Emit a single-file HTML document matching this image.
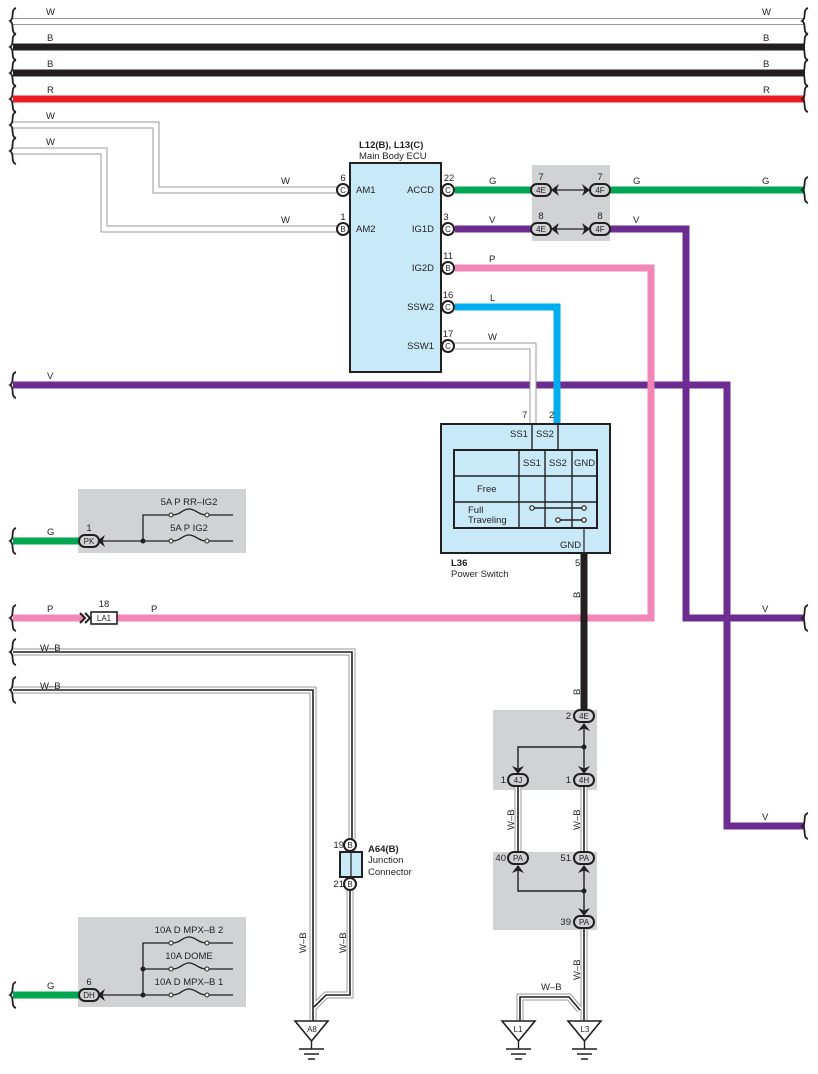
<!DOCTYPE html>
<html><head><meta charset="utf-8"><style>
html,body{margin:0;padding:0;background:#fff}
svg{display:block}
text{font-family:"Liberation Sans",sans-serif;font-size:9.5px;fill:#231f20}
.b{font-weight:bold}
</style></head><body>
<svg width="818" height="1074" viewBox="0 0 818 1074" xmlns="http://www.w3.org/2000/svg">
<defs>
<path id="wv" d="M16,-13 C10,-11 15,-3 10,0 C15,3 10,11 16,13" fill="none" stroke="#231f20" stroke-width="1.8"/>
<g id="chL"><polygon points="0,0 8,-6 5.5,0 8,6" fill="#231f20"/></g>
<g id="chR"><polygon points="0,0 -8,-6 -5.5,0 -8,6" fill="#231f20"/></g>
<g id="chU"><polygon points="0,0 -6,8 0,5.5 6,8" fill="#231f20"/></g>
<g id="chD"><polygon points="0,0 -6,-8 0,-5.5 6,-8" fill="#231f20"/></g>
</defs>

<rect x="532" y="165" width="78" height="76" fill="#d1d2d4"/>
<rect x="78" y="489" width="168" height="64" fill="#d1d2d4"/>
<rect x="78" y="917" width="168" height="90" fill="#d1d2d4"/>
<rect x="493" y="710" width="104" height="80" fill="#d1d2d4"/>
<rect x="493" y="852" width="104" height="78" fill="#d1d2d4"/>

<g fill="none">
<path d="M13,21.5 H805" stroke="#999" stroke-width="7"/><path d="M13,21.5 H805" stroke="#fff" stroke-width="5"/>
<path d="M13,47 H805" stroke="#231f20" stroke-width="7"/>
<path d="M13,73 H805" stroke="#231f20" stroke-width="7"/>
<path d="M13,99 H805" stroke="#ed1c24" stroke-width="7"/>
<path d="M13,125 H156 V190 H337" stroke="#999" stroke-width="7"/><path d="M13,125 H156 V190 H337" stroke="#fff" stroke-width="5"/>
<path d="M13,151 H104 V229 H337" stroke="#999" stroke-width="7"/><path d="M13,151 H104 V229 H337" stroke="#fff" stroke-width="5"/>
<path d="M455,190 H531" stroke="#00a651" stroke-width="7"/>
<path d="M610,190 H805" stroke="#00a651" stroke-width="7"/>
<path d="M455,229 H531" stroke="#6d2c91" stroke-width="7"/>
<path d="M610,229 H686 V618 H805" stroke="#6d2c91" stroke-width="7"/>
<path d="M13,385 H727 V826 H805" stroke="#6d2c91" stroke-width="7"/>
<path d="M455,268 H651 V618 H117" stroke="#f186b7" stroke-width="7"/>
<path d="M13,618 H84" stroke="#f186b7" stroke-width="7"/>
<path d="M455,307 H557 V424" stroke="#00aeef" stroke-width="7"/>
<path d="M455,346 H533 V424" stroke="#999" stroke-width="7"/><path d="M455,346 H533 V424" stroke="#fff" stroke-width="5"/>
<path d="M584,553 V710" stroke="#231f20" stroke-width="7"/>
<path d="M13,541 H80" stroke="#00a651" stroke-width="7"/>
<path d="M13,995 H80" stroke="#00a651" stroke-width="7"/>
</g>

<g fill="none" stroke-linejoin="miter">
<g stroke="#999" stroke-width="7">
<path d="M13,652 H352 V839"/>
<path d="M13,690 H313 V1021"/>
<path d="M350,890 V995 H326 L314,1007"/>
<path d="M518,786 V852"/><path d="M584,786 V852"/>
<path d="M584,928 V1021"/>
<path d="M580,1010 L569,997 H520 V1021"/>
</g>
<g stroke="#fff" stroke-width="5">
<path d="M13,652 H352 V839"/>
<path d="M13,690 H313 V1021"/>
<path d="M350,890 V995 H326 L314,1007"/>
<path d="M518,786 V852"/><path d="M584,786 V852"/>
<path d="M584,928 V1021"/>
<path d="M580,1010 L569,997 H520 V1021"/>
</g>
<g stroke="#231f20" stroke-width="1.6">
<path d="M13,652 H352 V839"/>
<path d="M13,690 H313 V1021"/>
<path d="M350,890 V995 H326 L314,1007"/>
<path d="M518,786 V852"/><path d="M584,786 V852"/>
<path d="M584,928 V1021"/>
<path d="M580,1010 L569,997 H520 V1021"/>
</g>
</g>

<g>
<use href="#wv" x="0" y="21"/><use href="#wv" x="0" y="47"/><use href="#wv" x="0" y="73"/><use href="#wv" x="0" y="99"/><use href="#wv" x="0" y="125"/><use href="#wv" x="0" y="151"/>
<use href="#wv" x="0" y="385"/><use href="#wv" x="0" y="541"/><use href="#wv" x="0" y="618"/><use href="#wv" x="0" y="652"/><use href="#wv" x="0" y="690"/><use href="#wv" x="0" y="995"/>
<use href="#wv" x="792" y="21"/><use href="#wv" x="792" y="47"/><use href="#wv" x="792" y="73"/><use href="#wv" x="792" y="99"/><use href="#wv" x="792" y="190"/>
<use href="#wv" x="792" y="618"/><use href="#wv" x="792" y="826"/>
</g>

<text x="46" y="15">W</text><text x="762" y="15">W</text>
<text x="47" y="41">B</text><text x="763" y="41">B</text>
<text x="47" y="67">B</text><text x="763" y="67">B</text>
<text x="47" y="93">R</text><text x="763" y="93">R</text>
<text x="46" y="119">W</text><text x="46" y="145">W</text>
<text x="281" y="184">W</text><text x="281" y="223">W</text>
<text x="489" y="184">G</text><text x="489" y="223">V</text><text x="489" y="262">P</text><text x="490" y="301">L</text><text x="488" y="340">W</text>
<text x="633" y="184">G</text><text x="633" y="223">V</text><text x="762" y="184">G</text>
<text x="47" y="379">V</text><text x="762" y="612">V</text><text x="762" y="820">V</text>
<text x="47" y="535">G</text><text x="47" y="612">P</text><text x="151" y="612">P</text><text x="47" y="989">G</text>
<text x="40" y="651">W–B</text><text x="40" y="689">W–B</text>
<text x="541" y="990">W–B</text>

<rect x="350" y="163" width="91" height="209" fill="#c7e9f8" stroke="#231f20" stroke-width="2"/>
<text x="359" y="148" class="b">L12(B), L13(C)</text>
<text x="359" y="159">Main Body ECU</text>
<text x="356" y="193">AM1</text><text x="356" y="232">AM2</text>
<g text-anchor="end">
<text x="434" y="193">ACCD</text><text x="434" y="232">IG1D</text><text x="434" y="271">IG2D</text><text x="434" y="310">SSW2</text><text x="434" y="349">SSW1</text>
</g>
<g fill="#fff" stroke="#231f20" stroke-width="2">
<circle cx="343" cy="190" r="6"/><circle cx="343" cy="229" r="6"/>
<circle cx="448" cy="190" r="6"/><circle cx="448" cy="229" r="6"/><circle cx="448" cy="268" r="6"/><circle cx="448" cy="307" r="6"/><circle cx="448" cy="346" r="6"/>
<circle cx="350" cy="845" r="6"/><circle cx="350" cy="884" r="6"/>
</g>
<g text-anchor="middle">
<text x="343" y="193" style="font-size:8px">C</text><text x="343" y="232" style="font-size:8px">B</text>
<text x="448" y="193" style="font-size:8px">C</text><text x="448" y="232" style="font-size:8px">C</text><text x="448" y="271" style="font-size:8px">B</text><text x="448" y="310" style="font-size:8px">C</text><text x="448" y="349" style="font-size:8px">C</text>
<text x="350" y="848" style="font-size:8px">B</text><text x="350" y="887" style="font-size:8px">B</text>
<text x="343" y="181">6</text><text x="343" y="220">1</text>
<text x="449" y="181">22</text><text x="446" y="220">3</text><text x="448" y="259">11</text><text x="448" y="298">16</text><text x="448" y="337">17</text>
</g>

<g stroke="#231f20" stroke-width="1.2"><line x1="556" y1="190" x2="588" y2="190"/><line x1="556" y1="229" x2="588" y2="229"/></g>
<use href="#chL" x="551" y="190"/><use href="#chR" x="590" y="190"/>
<use href="#chL" x="551" y="229"/><use href="#chR" x="590" y="229"/>
<g fill="#d1d2d4" stroke="#231f20" stroke-width="2">
<rect x="531" y="184" width="20" height="12" rx="6"/><rect x="590" y="184" width="20" height="12" rx="6"/>
<rect x="531" y="223" width="20" height="12" rx="6"/><rect x="590" y="223" width="20" height="12" rx="6"/>
</g>
<g text-anchor="middle">
<text x="541" y="193" style="font-size:8px">4E</text><text x="600" y="193" style="font-size:8px">4F</text>
<text x="541" y="232" style="font-size:8px">4E</text><text x="600" y="232" style="font-size:8px">4F</text>
<text x="541" y="180">7</text><text x="600" y="180">7</text><text x="541" y="219">8</text><text x="600" y="219">8</text>
</g>

<rect x="441" y="424" width="169" height="129" fill="#c7e9f8" stroke="#231f20" stroke-width="2"/>
<g stroke="#231f20" stroke-width="1.4" fill="none">
<line x1="532" y1="424" x2="532" y2="450"/><line x1="558" y1="424" x2="558" y2="450"/>
<rect x="454" y="450" width="143" height="78" stroke-width="2"/>
<line x1="519" y1="450" x2="519" y2="528"/><line x1="545" y1="450" x2="545" y2="528"/><line x1="572" y1="450" x2="572" y2="528"/>
<line x1="454" y1="476" x2="597" y2="476"/><line x1="454" y1="502" x2="597" y2="502"/>
<line x1="532" y1="508" x2="584" y2="508"/><line x1="558" y1="520" x2="584" y2="520"/>
<line x1="584" y1="528" x2="584" y2="553" stroke-width="1.2"/>
</g>
<g fill="#fff" stroke="#231f20" stroke-width="1.2"><circle cx="532" cy="508" r="2.2"/><circle cx="584" cy="508" r="2.2"/><circle cx="558" cy="520" r="2.2"/><circle cx="584" cy="520" r="2.2"/></g>
<text x="510" y="437">SS1</text><text x="536" y="437">SS2</text>
<text x="523" y="466">SS1</text><text x="549" y="466">SS2</text><text x="574" y="466">GND</text>
<text x="477" y="492">Free</text><text x="468" y="513">Full</text><text x="468" y="523">Traveling</text>
<text x="560" y="548">GND</text>
<text x="522" y="418">7</text><text x="549" y="418">2</text>
<text x="451" y="566" class="b">L36</text><text x="451" y="577">Power Switch</text>
<text x="575" y="566">5</text>
<text transform="translate(580,598) rotate(-90)">B</text>
<text transform="translate(580,695) rotate(-90)">B</text>

<g stroke="#231f20" stroke-width="1.4" fill="none">
<path d="M584,724 V770"/><path d="M584,747 H518 V770"/>
<path d="M518,868 V891 H584"/><path d="M584,868 V912"/>
</g>
<circle cx="584" cy="747" r="2.5" fill="#231f20"/><circle cx="584" cy="891" r="2.5" fill="#231f20"/>
<use href="#chU" x="584" y="723"/><use href="#chD" x="584" y="774"/><use href="#chD" x="518" y="774"/>
<use href="#chU" x="518" y="865"/><use href="#chU" x="584" y="865"/><use href="#chD" x="584" y="916"/>
<g fill="#d1d2d4" stroke="#231f20" stroke-width="2">
<rect x="574" y="710" width="20" height="12" rx="6"/>
<rect x="508" y="774" width="20" height="12" rx="6"/><rect x="574" y="774" width="20" height="12" rx="6"/>
<rect x="508" y="852" width="20" height="12" rx="6"/><rect x="574" y="852" width="20" height="12" rx="6"/>
<rect x="574" y="916" width="20" height="12" rx="6"/>
</g>
<g text-anchor="middle">
<text x="584" y="719" style="font-size:8px">4E</text>
<text x="518" y="783" style="font-size:8px">4J</text><text x="584" y="783" style="font-size:8px">4H</text>
<text x="518" y="861" style="font-size:8px">PA</text><text x="584" y="861" style="font-size:8px">PA</text>
<text x="584" y="925" style="font-size:8px">PA</text>
</g>
<g text-anchor="end">
<text x="571" y="719">2</text><text x="506" y="783">1</text><text x="571" y="783">1</text>
<text x="506" y="861">40</text><text x="571" y="861">51</text><text x="571" y="925">39</text>
<text x="344" y="848">19</text><text x="344" y="887">21</text>
</g>
<text transform="translate(514,830) rotate(-90)">W–B</text>
<text transform="translate(580,830) rotate(-90)">W–B</text>
<text transform="translate(580,980) rotate(-90)">W–B</text>
<text transform="translate(306,953) rotate(-90)">W–B</text>
<text transform="translate(346,953) rotate(-90)">W–B</text>

<rect x="340" y="852" width="22" height="25" fill="#c7e9f8" stroke="#231f20" stroke-width="2"/>
<line x1="351" y1="852" x2="351" y2="877" stroke="#231f20" stroke-width="1.2"/>
<text x="368" y="852" class="b">A64(B)</text><text x="368" y="863">Junction</text><text x="368" y="875">Connector</text>

<g stroke="#231f20" stroke-width="1.6" fill="#fff">
<polygon points="295,1021 328,1021 311.5,1041"/>
<polygon points="502,1021 535,1021 518.5,1041"/>
<polygon points="568,1021 601,1021 584.5,1041"/>
</g>
<g stroke="#231f20" stroke-width="1.4">
<path d="M311.5,1041 V1049 M299,1049 H324 M304,1054 H319 M308,1059 H315"/>
<path d="M518.5,1041 V1049 M506,1049 H531 M511,1054 H526 M515,1059 H522"/>
<path d="M584.5,1041 V1049 M572,1049 H597 M577,1054 H592 M581,1059 H588"/>
</g>
<g text-anchor="middle">
<text x="312" y="1032" style="font-size:8px">A8</text><text x="518" y="1032" style="font-size:8px">L1</text><text x="585" y="1032" style="font-size:8px">L3</text>
</g>

<g stroke="#231f20" stroke-width="1.3" fill="none">
<path d="M100,541 H170 M208,541 H233 M143,541 V515 H170 M208,515 H233"/>
<path d="M172,515 C181,515 182,509 189,509 C196,509 198,515 206,515"/>
<path d="M172,541 C181,541 182,535 189,535 C196,535 198,541 206,541"/>
<path d="M100,995 H170 M208,995 H233 M143,995 V943 H170 M208,943 H233 M143,969 H170 M208,969 H233"/>
<path d="M172,943 C181,943 182,937 189,937 C196,937 198,943 206,943"/>
<path d="M172,969 C181,969 182,963 189,963 C196,963 198,969 206,969"/>
<path d="M172,995 C181,995 182,989 189,989 C196,989 198,995 206,995"/>
</g>
<g fill="#fff" stroke="#231f20" stroke-width="1"><circle cx="171" cy="515" r="2"/><circle cx="207" cy="515" r="2"/><circle cx="171" cy="541" r="2"/><circle cx="207" cy="541" r="2"/>
<circle cx="171" cy="943" r="2"/><circle cx="207" cy="943" r="2"/><circle cx="171" cy="969" r="2"/><circle cx="207" cy="969" r="2"/><circle cx="171" cy="995" r="2"/><circle cx="207" cy="995" r="2"/></g>
<g fill="#231f20"><circle cx="143" cy="541" r="2.5"/><circle cx="143" cy="969" r="2.5"/><circle cx="143" cy="995" r="2.5"/></g>
<use href="#chL" x="97" y="541"/><use href="#chL" x="97" y="995"/>
<g text-anchor="middle">
<text x="189" y="505">5A P RR–IG2</text><text x="189" y="531">5A P IG2</text>
<text x="189" y="933">10A D MPX–B 2</text><text x="189" y="959">10A DOME</text><text x="189" y="985">10A D MPX–B 1</text>
<text x="89" y="531">1</text><text x="89" y="985">6</text><text x="104" y="607">18</text>
</g>
<g fill="#d1d2d4" stroke="#231f20" stroke-width="2">
<rect x="79" y="535" width="20" height="12" rx="6"/><rect x="79" y="989" width="20" height="12" rx="6"/>
</g>
<text x="89" y="544" text-anchor="middle" style="font-size:8px">PK</text>
<text x="89" y="998" text-anchor="middle" style="font-size:8px">DH</text>

<path d="M80,613 L85,618 L80,623 M85,613 L90,618 L85,623" stroke="#231f20" stroke-width="2" fill="none"/>
<rect x="91" y="612" width="26" height="12" fill="#fff" stroke="#231f20" stroke-width="1.6"/>
<text x="104" y="621" text-anchor="middle" style="font-size:8px">LA1</text>
</svg>
</body></html>
